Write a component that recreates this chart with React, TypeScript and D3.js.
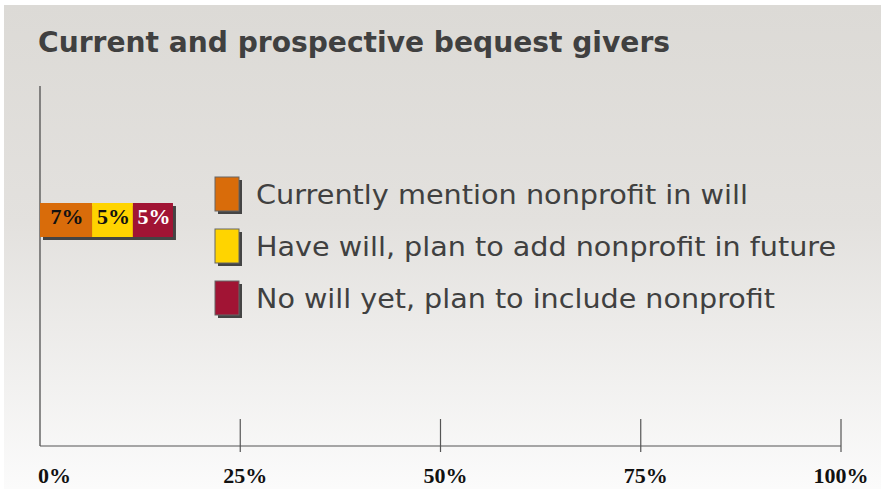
import React from "react";
import * as d3 from "d3";

const title = "Current and prospective bequest givers";
const seriesNames = [
  "Currently mention nonprofit in will",
  "Have will, plan to add nonprofit in future",
  "No will yet, plan to include nonprofit",
];
const seriesValues = [6.5, 5.1, 5.0];
const seriesColors = ["#d96c0a", "#ffd400", "#a11434"];
const labelColors = ["#111111", "#111111", "#ffffff"];
const tickValues = [0, 25, 50, 75, 100];
const legendWidths = [492, 580, 519];

const W = 883;
const H = 489;

export default function App() {
  const x = d3.scaleLinear().domain([0, 100]).range([40, 841]);
  const barY = 203;
  const barH = 34;
  const stacked = seriesValues.map((v, i) => {
    const start = d3.sum(seriesValues.slice(0, i));
    return { v, start, end: start + v, i };
  });
  const legendY = d3.scaleLinear().domain([0, 1]).range([177, 229]);

  return (
    <svg
      width={W}
      height={H}
      style={{ position: "absolute", left: 0, top: 0, display: "block" }}
    >
      <defs>
        <linearGradient id="bg" x1="0" y1="0" x2="0" y2="1">
          <stop offset="0" stopColor="#dcdad6" />
          <stop offset="0.45" stopColor="#e3e1de" />
          <stop offset="1" stopColor="#fbfbfb" />
        </linearGradient>
      </defs>
      <rect x={0} y={0} width={W} height={H} fill="#ffffff" />
      <rect x={4} y={5} width={W - 6} height={H - 5} fill="url(#bg)" />

      <text
        x={38}
        y={52}
        fontFamily="DejaVu Sans, Verdana, sans-serif"
        fontWeight="bold"
        fontSize={29}
        fill="#404040"
        textLength={632}
        lengthAdjust="spacingAndGlyphs"
      >
        {title}
      </text>

      {/* axes */}
      <line x1={40} y1={86} x2={40} y2={446} stroke="#444" strokeWidth={1.2} />
      <line x1={40} y1={446} x2={841} y2={446} stroke="#555" strokeWidth={1.2} />
      {tickValues.slice(1).map((t) => (
        <line
          key={t}
          x1={x(t)}
          x2={x(t)}
          y1={419}
          y2={452}
          stroke="#555"
          strokeWidth={1.2}
        />
      ))}
      {tickValues.map((t, i) => (
        <text
          key={t}
          x={i === 0 ? 38 : i === tickValues.length - 1 ? x(t) : x(t) + 5}
          y={483}
          textAnchor={i === 0 ? "start" : "middle"}
          fontFamily="Liberation Serif, Times New Roman, serif"
          fontWeight="bold"
          fontSize={22}
          fill="#111"
        >
          {t}%
        </text>
      ))}

      {/* bar shadow */}
      <rect
        x={x(0) + 3}
        y={barY + 3}
        width={x(d3.sum(seriesValues)) - x(0)}
        height={barH}
        fill="#444"
      />
      {stacked.map((s) => (
        <g key={s.i}>
          <rect
            x={x(s.start)}
            y={barY}
            width={x(s.end) - x(s.start)}
            height={barH}
            fill={seriesColors[s.i]}
          />
          <text
            x={(x(s.start) + x(s.end)) / 2 + 1}
            y={barY + 21}
            textAnchor="middle"
            fontFamily="Liberation Serif, Times New Roman, serif"
            fontWeight="bold"
            fontSize={22}
            fill={labelColors[s.i]}
          >
            {Math.round(s.v)}%
          </text>
        </g>
      ))}

      {/* legend */}
      {seriesNames.map((n, i) => (
        <g key={n}>
          <rect x={218} y={legendY(i) + 3} width={24} height={34} fill="#444" />
          <rect
            x={215}
            y={legendY(i)}
            width={24}
            height={34}
            fill={seriesColors[i]}
            stroke="#666"
            strokeWidth={1}
          />
          <text
            x={256}
            y={legendY(i) + 27}
            fontFamily="DejaVu Sans, Verdana, sans-serif"
            fontSize={26}
            fill="#404040"
            textLength={legendWidths[i]}
            lengthAdjust="spacingAndGlyphs"
          >
            {n}
          </text>
        </g>
      ))}
    </svg>
  );
}
